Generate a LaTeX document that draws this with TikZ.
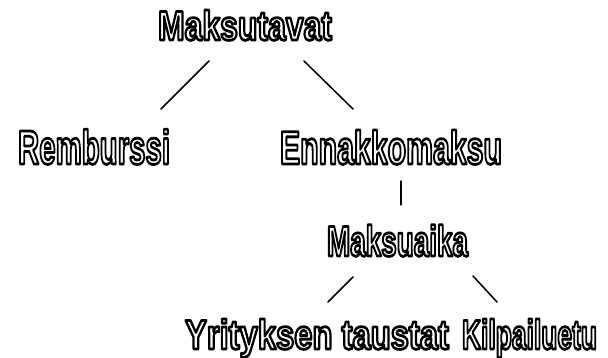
\documentclass[tikz,border=0pt]{standalone}
\usepackage{fontspec}
\setmainfont{Liberation Sans}
\usepackage{graphicx}
\newcommand\hollowtext[3]{\resizebox{#1}{\height}{\fontsize{#2}{#2}\selectfont\bfseries\special{pdf:literal direct 1 Tr 2.8 w 1 j}#3\special{pdf:literal direct 0 Tr 0 j}}}
\tikzset{
  lbl/.style={inner sep=0pt, outer sep=0pt, anchor=base west},
  conn/.style={line width=1.5pt, line cap=round}
}
\begin{document}
\begin{tikzpicture}[x=1pt,y=1pt]
\useasboundingbox (0,0) rectangle (608,-358);
\node[lbl] (mt)  at (158,-40)  {\hollowtext{174pt}{41.5pt}{Maksutavat}};
\node[lbl] (rem) at (18,-164)  {\hollowtext{152pt}{48pt}{Remburssi}};
\node[lbl] (enn) at (280,-164) {\hollowtext{222pt}{47pt}{Ennakkomaksu}};
\node[lbl] (mka) at (327,-256) {\hollowtext{141pt}{43pt}{Maksuaika}};
\node[lbl] (yri) at (185,-349) {\hollowtext{264pt}{41.5pt}{Yrityksen taustat}};
\node[lbl] (kil) at (462,-349) {\hollowtext{135pt}{41.5pt}{Kilpailuetu}};
\coordinate (a1) at (209,-61);  \coordinate (a2) at (161,-109);
\coordinate (b1) at (304,-61);  \coordinate (b2) at (353,-109);
\coordinate (c1) at (401,-181); \coordinate (c2) at (401,-205);
\coordinate (d1) at (353,-277); \coordinate (d2) at (328,-302);
\coordinate (e1) at (473,-276); \coordinate (e2) at (497,-302);
\draw[conn] (a1) -- (a2);
\draw[conn] (b1) -- (b2);
\draw[conn] (c1) -- (c2);
\draw[conn] (d1) -- (d2);
\draw[conn] (e1) -- (e2);
\end{tikzpicture}
\end{document}
